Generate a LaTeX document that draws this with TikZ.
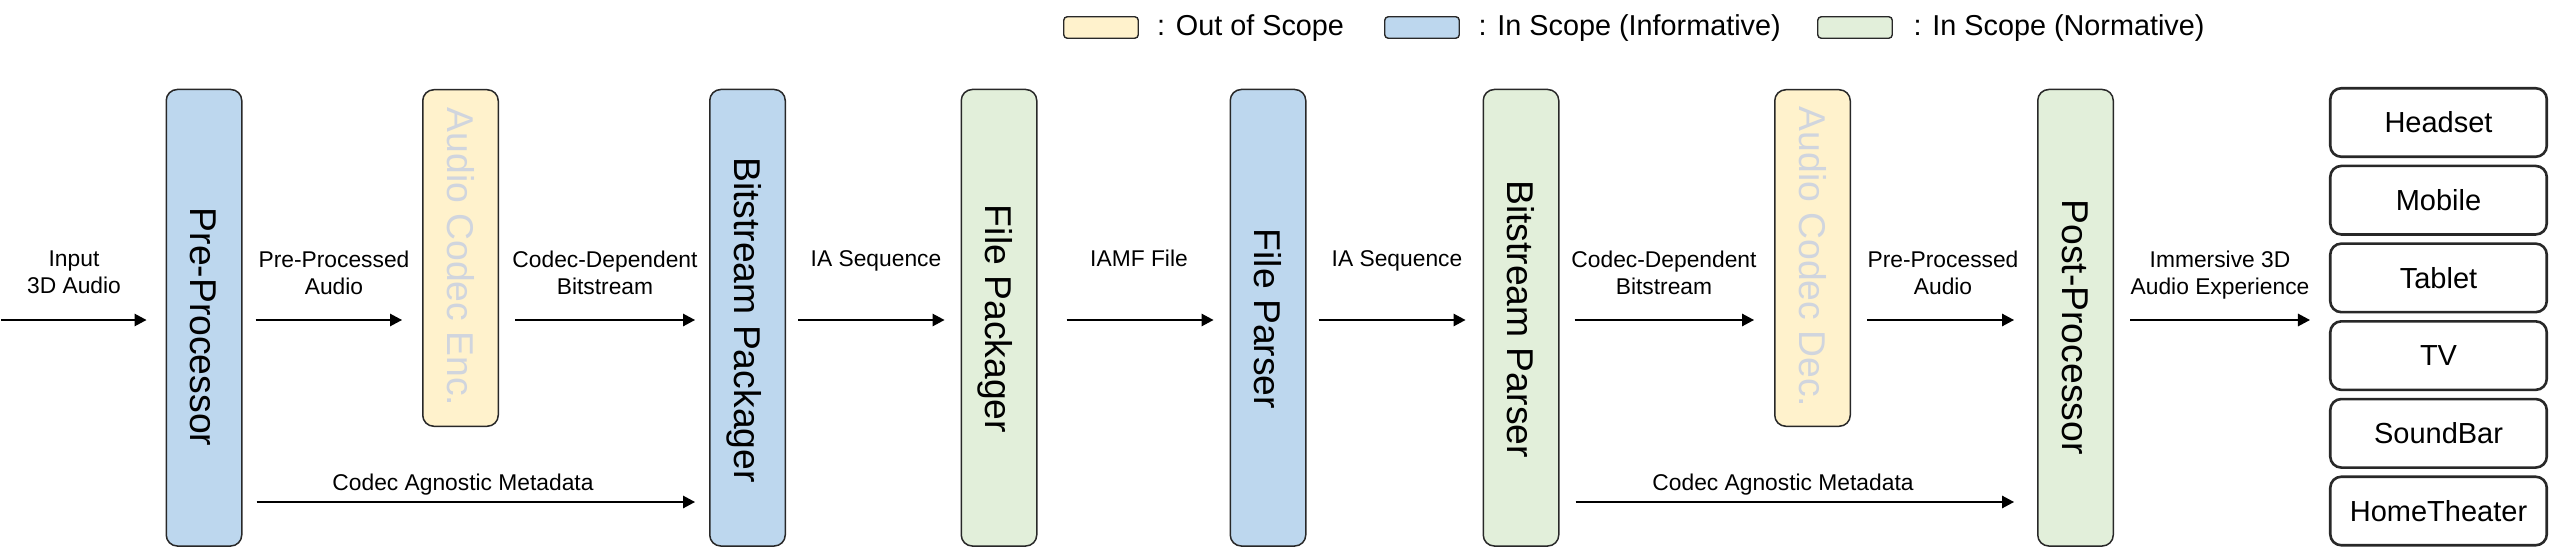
\documentclass[tikz,border=0pt]{standalone}
\usepackage{fontspec}
\setmainfont{Liberation Sans}
\usetikzlibrary{arrows.meta}
\definecolor{infoblue}{RGB}{189,215,238}
\definecolor{outyellow}{RGB}{255,242,204}
\definecolor{normgreen}{RGB}{226,239,218}
\definecolor{fadetext}{RGB}{208,213,222}
\definecolor{edgegray}{RGB}{40,40,40}
\begin{document}
\begin{tikzpicture}[x=1pt,y=-1pt,
  blockbox/.style={draw=edgegray, line width=1.5pt, rounded corners=11pt, minimum width=75.5pt, inner sep=0pt},
  tallbox/.style={blockbox, minimum height=456.5pt},
  shortbox/.style={blockbox, minimum height=336.5pt},
  boxtext/.style={font=\fontsize{37.3}{44}\selectfont, rotate=-90, inner sep=0pt, text height=26.7pt, text depth=0pt},
  fadedtext/.style={boxtext, text=fadetext},
  lbl/.style={font=\fontsize{22.8}{27.6}\selectfont, align=center, inner sep=0pt},
  devbox/.style={draw=edgegray, line width=2.6pt, rounded corners=11pt, minimum width=216.5pt, minimum height=68.5pt, inner sep=0pt, font=\fontsize{29}{34}\selectfont},
  legbox/.style={draw=edgegray, line width=1.4pt, rounded corners=3.5pt, minimum width=74.5pt, minimum height=21.5pt, inner sep=0pt},
  legtext/.style={font=\fontsize{28.8}{34}\selectfont, anchor=base west, inner sep=0pt},
  arr/.style={draw=black, line width=1.4pt, -{Triangle[length=12pt,width=12.5pt]}}
]
\useasboundingbox (0,0) rectangle (2550,548);

% legend
\node[legbox, fill=outyellow] (lg1) at (1101,27.5) {};
\node[legtext] (lt1) at (1157,36) {: Out of Scope};
\node[legbox, fill=infoblue] (lg2) at (1422,27.5) {};
\node[legtext] (lt2) at (1478.5,36) {: In Scope (Informative)};
\node[legbox, fill=normgreen] (lg3) at (1855,27.5) {};
\node[legtext] (lt3) at (1913.5,36) {: In Scope (Normative)};

% blocks
\node[tallbox, fill=infoblue] (pre) at (204,317.75) {};
\node[boxtext] (pret) at (204,327) {Pre-Processor};
\node[shortbox, fill=outyellow] (enc) at (460.5,258) {};
\node[fadedtext] (enct) at (460.5,257) {Audio Codec Enc.};
\node[tallbox, fill=infoblue] (bpk) at (747.5,317.75) {};
\node[boxtext] (bpkt) at (747.5,320) {Bitstream Packager};
\node[tallbox, fill=normgreen] (fpk) at (999,317.75) {};
\node[boxtext] (fpkt) at (999,319) {File Packager};
\node[tallbox, fill=infoblue] (fps) at (1268,317.75) {};
\node[boxtext] (fpst) at (1268,319) {File Parser};
\node[tallbox, fill=normgreen] (bps) at (1521,317.75) {};
\node[boxtext] (bpst) at (1521,319) {Bitstream Parser};
\node[shortbox, fill=outyellow] (dec) at (1812.5,258) {};
\node[fadedtext] (dect) at (1812.5,257) {Audio Codec Dec.};
\node[tallbox, fill=normgreen] (post) at (2075.5,317.75) {};
\node[boxtext] (postt) at (2075.5,327) {Post-Processor};

% devices
\node[devbox] (d1) at (2438.5,122.5) {Headset};
\node[devbox] (d2) at (2438.5,200.2) {Mobile};
\node[devbox] (d3) at (2438.5,277.9) {Tablet};
\node[devbox] (d4) at (2438.5,355.6) {TV};
\node[devbox] (d5) at (2438.5,433.3) {SoundBar};
\node[devbox] (d6) at (2438.5,511) {HomeTheater};

% rows
\coordinate (arow) at (0,320);
\coordinate (mrow) at (0,502);
\coordinate (inp) at (1,320);

% arrows main row
\draw[arr, shorten >=19pt] (inp) -- (pre.west |- arow);
\draw[arr, shorten <=13pt, shorten >=20pt] (pre.east |- arow) -- (enc.west |- arow);
\draw[arr, shorten <=16pt, shorten >=14pt] (enc.east |- arow) -- (bpk.west |- arow);
\draw[arr, shorten <=12pt, shorten >=16pt] (bpk.east |- arow) -- (fpk.west |- arow);
\draw[arr, shorten <=29pt, shorten >=16pt] (fpk.east |- arow) -- (fps.west |- arow);
\draw[arr, shorten <=12pt, shorten >=17pt] (fps.east |- arow) -- (bps.west |- arow);
\draw[arr, shorten <=15pt, shorten >=20pt] (bps.east |- arow) -- (dec.west |- arow);
\draw[arr, shorten <=16pt, shorten >=23pt] (dec.east |- arow) -- (post.west |- arow);
\draw[arr, shorten <=16pt, shorten >=19pt] (post.east |- arow) -- (d4.west |- arow);

% metadata arrows
\draw[arr, shorten <=14pt, shorten >=14pt] (pre.east |- mrow) -- (bpk.west |- mrow);
\draw[arr, shorten <=16pt, shorten >=23pt] (bps.east |- mrow) -- (post.west |- mrow);

% labels
\node[lbl, anchor=north] (l1) at (74,250.3) {Input\\3D Audio};
\node[lbl, anchor=north] (l2) at (334,250.3) {Pre-Processed\\Audio};
\node[lbl, anchor=north] (l3) at (605,250.3) {Codec-Dependent\\Bitstream};
\node[lbl, anchor=base] (l4) at (876,266.7) {IA Sequence};
\node[lbl, anchor=base] (l5) at (1139,266.7) {IAMF File};
\node[lbl, anchor=base] (l6) at (1397,266.7) {IA Sequence};
\node[lbl, anchor=north] (l7) at (1664,250.3) {Codec-Dependent\\Bitstream};
\node[lbl, anchor=north] (l8) at (1943,250.3) {Pre-Processed\\Audio};
\node[lbl, anchor=north] (l9) at (2220,250.3) {Immersive 3D\\Audio Experience};
\node[lbl, anchor=base] (m1) at (463,490) {Codec Agnostic Metadata};
\node[lbl, anchor=base] (m2) at (1783,490) {Codec Agnostic Metadata};
\end{tikzpicture}
\end{document}
